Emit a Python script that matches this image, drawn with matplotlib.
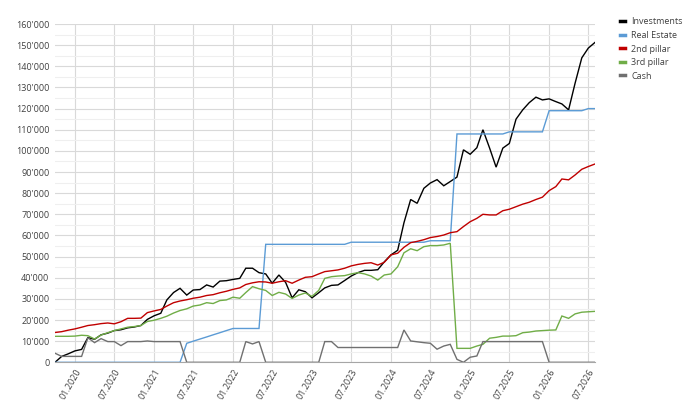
import matplotlib
matplotlib.use("Agg")
import matplotlib.pyplot as plt
import matplotlib.dates as mdates
from matplotlib.ticker import FuncFormatter, MultipleLocator
import pandas as pd

plt.rcParams['font.family'] = ['Open Sans', 'DejaVu Sans']

months = pd.date_range("2019-10-01", periods=83, freq="MS")

investments = [0, 2.8, 4.0, 5.4, 6.1, 11.7, 10.9, 13.0, 13.8, 15.0,
               15.4, 16.3, 16.7, 17.4, 20.3, 22.0, 23.2, 29.5, 33.0, 35.0,
               31.8, 34.2, 34.4, 36.6, 35.6, 38.4, 38.6, 39.2, 39.7, 44.5,
               44.5, 42.4, 41.8, 37.4, 41.3, 37.8, 30.5, 34.3, 33.4, 30.5,
               32.9, 35.2, 36.4, 36.6, 38.7, 40.8, 42.4, 43.5, 43.5, 43.8,
               47.5, 50.8, 53.0, 66.0, 77.0, 75.2, 82.3, 84.8, 86.4, 83.5,
               85.5, 87.6, 100.5, 98.4, 101.5, 110.0, 101.3, 92.3, 101.3, 103.5,
               115.0, 119.4, 122.8, 125.4, 124.1, 124.6, 123.3, 122.2, 119.4, 132.0,
               144.0, 148.6, 151.3]

real_estate = [0] * 20 + [9, 10, 11, 12, 13, 14, 15, 16, 16, 16, 16, 16] \
    + [55.8] * 13 + [56.8] * 12 + [57.5] * 4 + [108] * 8 + [109] * 6 \
    + [119] * 6 + [120] * 2

pillar2 = [14.1, 14.5, 15.2, 15.8, 16.6, 17.4, 17.8, 18.3, 18.6, 18.2,
           19.2, 20.8, 20.8, 20.9, 23.5, 24.3, 25.0, 26.6, 28.2, 29.0,
           29.6, 30.3, 30.8, 31.6, 32.0, 32.9, 33.6, 34.5, 35.2, 36.8,
           37.6, 38.1, 38.0, 37.4, 38.1, 38.6, 37.4, 38.9, 40.2, 40.5,
           41.8, 42.9, 43.3, 43.7, 44.5, 45.6, 46.3, 46.8, 47.1, 46.0,
           47.3, 50.8, 51.6, 54.4, 56.6, 57.2, 58.0, 59.0, 59.5, 60.2,
           61.3, 61.8, 64.2, 66.5, 68.1, 70.0, 69.7, 69.7, 71.7, 72.4,
           73.6, 74.8, 75.7, 77.0, 78.1, 81.2, 83.1, 86.7, 86.3, 88.6,
           91.3, 92.6, 93.8]

pillar3 = [12.3, 12.3, 12.3, 12.4, 12.8, 12.6, 11.0, 12.9, 14.0, 15.0,
           15.8, 16.6, 16.9, 17.4, 19.3, 19.9, 20.8, 21.8, 23.3, 24.5,
           25.3, 26.6, 27.1, 28.2, 27.8, 29.2, 29.5, 30.8, 30.3, 33.0,
           35.8, 34.8, 34.0, 31.6, 33.1, 32.3, 30.2, 31.8, 32.8, 31.2,
           34.0, 39.7, 40.5, 40.8, 41.0, 41.8, 42.4, 41.8, 40.8, 38.9,
           41.3, 41.8, 45.2, 51.8, 53.7, 52.8, 54.7, 55.2, 55.2, 55.5,
           56.3, 6.6, 6.6, 6.6, 7.7, 8.5, 11.4, 11.8, 12.4, 12.4,
           12.6, 14.0, 14.3, 14.8, 15.0, 15.2, 15.3, 21.9, 20.8, 22.9,
           23.7, 23.9, 24.1]

cash = [4.3, 2.8, 2.8, 2.8, 2.8, 11.6, 9.3, 11.2, 9.8, 9.8,
        7.9, 9.8, 9.8, 9.8, 10.1, 9.8, 9.8, 9.8, 9.8, 9.8] \
    + [0] * 9 + [9.8, 8.7, 9.8] + [0] * 9 + [9.8, 9.8] + [7.0] * 10 \
    + [15.3, 10.1, 9.7, 9.3, 9.0, 6.2, 7.7, 8.5, 1.4, 0, 2.4, 3.0] \
    + [9.8] * 10 + [0] * 8

series = [("Investments", investments, "#000000"),
          ("Real Estate", real_estate, "#5b9bd5"),
          ("2nd pillar", pillar2, "#c00000"),
          ("3rd pillar", pillar3, "#70ad47"),
          ("Cash", cash, "#707070")]

fig = plt.figure(figsize=(6.9, 4.12), dpi=100)
ax = fig.add_axes([0.0797, 0.1206, 0.7826, 0.8211])

for name, vals, col in series:
    ax.plot(months, [v * 1000 for v in vals], color=col, lw=1.0, label=name,
            solid_joinstyle="miter", zorder=3)

ax.set_xlim(months[0], months[-1])
ax.set_ylim(0, 160000)
ax.yaxis.set_major_locator(MultipleLocator(10000))
ax.yaxis.set_minor_locator(MultipleLocator(5000))
ax.yaxis.set_major_formatter(FuncFormatter(
    lambda v, p: "0" if v == 0 else f"{int(v):,}".replace(",", "'")))

ax.xaxis.set_major_locator(mdates.MonthLocator(bymonth=[1, 7]))
ax.xaxis.set_major_formatter(mdates.DateFormatter("%m.%Y"))

ax.grid(which="major", axis="y", color="#d9d9d9", lw=0.8, zorder=0)
ax.grid(which="minor", axis="y", color="#efefef", lw=0.8, zorder=0)
ax.grid(which="major", axis="x", color="#d9d9d9", lw=0.8, zorder=0)

for s in ["top", "right", "left"]:
    ax.spines[s].set_visible(False)
ax.spines["bottom"].set_color("#a6a6a6")
ax.spines["bottom"].set_linewidth(0.8)

ax.tick_params(axis="both", which="both", length=0, labelsize=6.5,
               colors="#404040", pad=4)
plt.setp(ax.get_xticklabels(), rotation=60, ha="right",
         rotation_mode="anchor")

leg = ax.legend(loc="upper left", bbox_to_anchor=(1.04, 1.03), frameon=False,
                fontsize=6.5, handlelength=0.55, handletextpad=0.7,
                labelspacing=0.5, borderaxespad=0)
for h in leg.get_lines():
    h.set_linewidth(2.5)
for t in leg.get_texts():
    t.set_color("#404040")

fig.savefig("out.png", dpi=100)
